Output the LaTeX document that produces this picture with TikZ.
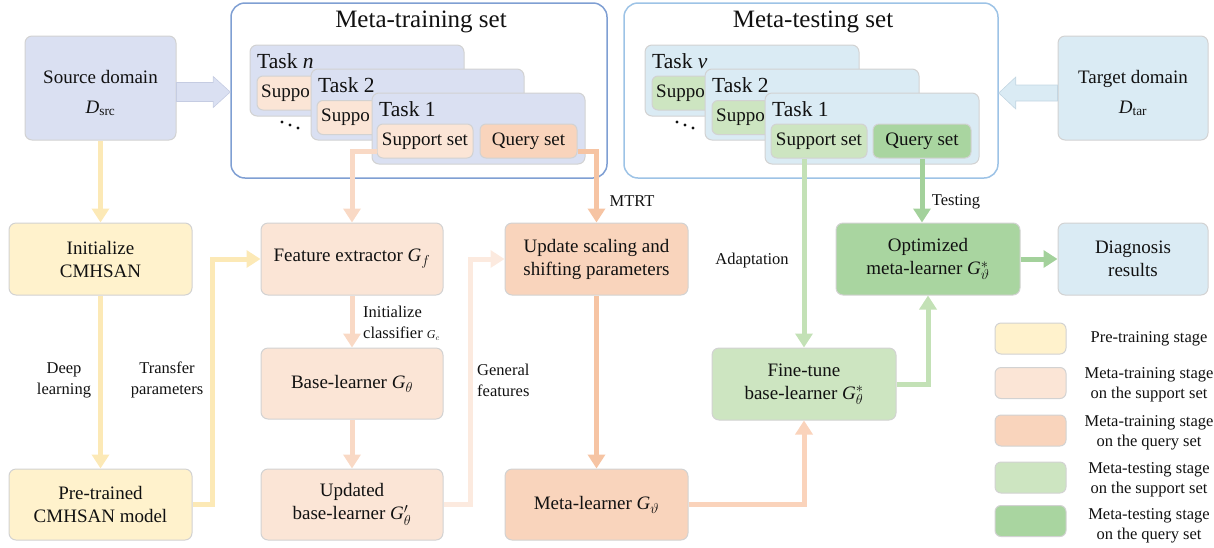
\documentclass[tikz,border=0pt]{standalone}
\usepackage{fontspec}
\setmainfont{Liberation Serif}
\usetikzlibrary{arrows.meta,calc}
\definecolor{lav}{HTML}{DAE0F2}
\definecolor{lavdark}{HTML}{C5CCE2}
\definecolor{lblue}{HTML}{DAEBF4}
\definecolor{lbluedark}{HTML}{C3D6E2}
\definecolor{yel}{HTML}{FFF2CC}
\definecolor{supp}{HTML}{FBE5D6}
\definecolor{query}{HTML}{F9D4BC}
\definecolor{gsupp}{HTML}{CDE5C1}
\definecolor{gquery}{HTML}{A9D5A0}
\definecolor{boxgray}{HTML}{D2D2D2}
\definecolor{frameA}{HTML}{7F9FD3}
\definecolor{frameB}{HTML}{9DC3E6}
\definecolor{cYellow}{HTML}{FCE9B6}
\definecolor{cSupp}{HTML}{F9D9C5}
\definecolor{cGen}{HTML}{FCEADF}
\definecolor{cQuery}{HTML}{F6C4A3}
\definecolor{cMetaF}{HTML}{FAD3BB}
\definecolor{cAdapt}{HTML}{C3E1B6}
\definecolor{cTest}{HTML}{A3D19B}
\definecolor{txt}{HTML}{111111}
\newcommand{\GG}{\textit{G}}
\begin{document}
\begin{tikzpicture}[x=1pt,y=-1pt,
  box/.style={draw=boxgray, line width=1pt, rounded corners=7pt, align=center,
    font=\fontsize{19}{23}\selectfont, inner sep=0pt, text=txt},
  card/.style={draw=boxgray, line width=1pt, rounded corners=7pt, inner sep=0pt},
  setbox/.style={draw=boxgray, line width=1pt, rounded corners=6pt, inner sep=0pt,
    minimum height=34pt, font=\fontsize{19}{23}\selectfont, text=txt},
  settxt/.style={anchor=west, inner sep=0pt, font=\fontsize{19}{23}\selectfont, text=txt},
  tasklab/.style={anchor=west, inner sep=0pt, font=\fontsize{21.5}{24}\selectfont, text=txt},
  frame/.style={line width=1.5pt, rounded corners=14pt, inner sep=0pt, fill=white},
  conn/.style={line width=5pt, -{Triangle[width=17pt,length=14pt]}},
  lab/.style={align=center, font=\fontsize{16.5}{21}\selectfont, text=txt, inner sep=1pt},
  sw/.style={draw=boxgray, line width=1pt, rounded corners=6pt, minimum width=71pt, minimum height=31pt, inner sep=0pt},
  legtxt/.style={align=center, font=\fontsize{16.5}{20}\selectfont, text=txt, inner sep=0pt}
]
\useasboundingbox (0,0) rectangle (1214,547);

% ---------- source / target domains
\node[box, fill=lav, minimum width=151pt, minimum height=104pt] (src) at (100.5,88) {};
\node[box, draw=none, inner sep=0pt] (srct) at (100.5,93) {Source domain\\[7pt]\textit{D}\textsubscript{src}};
\node[box, fill=lblue, minimum width=150pt, minimum height=104pt] (tgt) at (1133,88) {};
\node[box, draw=none, inner sep=0pt] (tgtt) at (1133,93) {Target domain\\[7pt]\textit{D}\textsubscript{tar}};

% ---------- meta-training set
\node[frame, draw=frameA, minimum width=376pt, minimum height=175pt] (mtrain) at (419,90.5) {};
\node[font=\fontsize{25}{30}\selectfont, text=txt] (mtraint) at (421,22) {Meta-training set};

\node[card, fill=lav, minimum width=214pt, minimum height=71pt] (tn) at (357,80.5) {};
\node[tasklab] (tnl) at (257,61) {Task \textit{n}};
\node[setbox, fill=supp, minimum width=96pt] (sn) at (305,93) {};
\node[settxt] (snt) at (261,93) {Suppo};
\fill[txt] (282,122) circle (1.6) (290,125) circle (1.6) (298,128) circle (1.6);

\node[card, fill=lav, minimum width=213pt, minimum height=71pt] (t2) at (417.5,104.5) {};
\node[tasklab] (t2l) at (318,85) {Task 2};
\node[setbox, fill=supp, minimum width=96pt] (s2) at (365,117.5) {};
\node[settxt] (s2t) at (321,117.5) {Suppo};

\node[card, fill=lav, minimum width=213pt, minimum height=71pt] (t1) at (478.5,128.5) {};
\node[tasklab] (t1l) at (379,109) {Task 1};
\node[setbox, fill=supp, minimum width=96pt] (s1) at (425,141) {Support set};
\node[setbox, fill=query, minimum width=97pt] (q1) at (528.5,141) {Query set};

% ---------- meta-testing set
\node[frame, draw=frameB, minimum width=374pt, minimum height=175pt] (mtest) at (811,90.5) {};
\node[font=\fontsize{25}{30}\selectfont, text=txt] (mtestt) at (813,22) {Meta-testing set};

\node[card, fill=lblue, minimum width=214pt, minimum height=71pt] (tv) at (752,80.5) {};
\node[tasklab] (tvl) at (652,61) {Task \textit{v}};
\node[setbox, fill=gsupp, minimum width=96pt] (sv) at (700,93) {};
\node[settxt] (svt) at (656,93) {Suppo};
\fill[txt] (677,122) circle (1.6) (685,125) circle (1.6) (693,128) circle (1.6);

\node[card, fill=lblue, minimum width=214pt, minimum height=71pt] (u2) at (812,104.5) {};
\node[tasklab] (u2l) at (712,85) {Task 2};
\node[setbox, fill=gsupp, minimum width=96pt] (su2) at (760,117.5) {};
\node[settxt] (su2t) at (716,117.5) {Suppo};

\node[card, fill=lblue, minimum width=214pt, minimum height=71pt] (u1) at (872,128.5) {};
\node[tasklab] (u1l) at (772,109) {Task 1};
\node[setbox, fill=gsupp, minimum width=96pt] (s1t) at (819,141) {Support set};
\node[setbox, fill=gquery, minimum width=98pt] (q1t) at (922,141) {Query set};

% ---------- block arrows
\coordinate (a1) at (src.east);
\coordinate (a2) at (src.east -| mtrain.west);
\draw[fill=lav, draw=lavdark, line width=0.6pt, line join=miter]
  ($(a1)+(0,-5.5)$) -- ($(a2)+(-17,-5.5)$) -- ($(a2)+(-17,-11.5)$) -- ($(a2)+(0,4)$)
  -- ($(a2)+(-17,19.5)$) -- ($(a2)+(-17,13.5)$) -- ($(a1)+(0,13.5)$) -- cycle;
\coordinate (a3) at (tgt.west);
\coordinate (a4) at (tgt.west -| mtest.east);
\draw[fill=lblue, draw=lbluedark, line width=0.6pt, line join=miter]
  ($(a3)+(0,-3)$) -- ($(a4)+(17,-3)$) -- ($(a4)+(17,-11)$) -- ($(a4)+(0,5)$)
  -- ($(a4)+(17,21)$) -- ($(a4)+(17,13)$) -- ($(a3)+(0,13)$) -- cycle;

% ---------- process boxes
\node[box, fill=yel, minimum width=183pt, minimum height=72pt] (init) at (100.5,259) {Initialize\\CMHSAN};
\node[box, fill=yel, minimum width=183pt, minimum height=71pt] (pre) at (100.5,504.5) {Pre-trained\\CMHSAN model};
\node[box, fill=supp, minimum width=182pt, minimum height=72pt] (fe) at (352,259) {Feature extractor \GG$_{f}$};
\node[box, fill=supp, minimum width=182pt, minimum height=71pt] (base) at (352,383.5) {Base-learner \GG$_{\theta}$};
\node[box, fill=supp, minimum width=182pt, minimum height=71pt] (upd) at (352,504.5) {Updated\\base-learner \GG$'_{\theta}$};
\node[box, fill=query, minimum width=183pt, minimum height=72pt] (usc) at (596.5,259) {Update scaling and\\shifting parameters};
\node[box, fill=query, minimum width=183pt, minimum height=71pt] (meta) at (596.5,504.5) {Meta-learner \GG$_{\vartheta}$};
\node[box, fill=gsupp, minimum width=184pt, minimum height=72pt] (fine) at (804,384) {Fine-tune\\base-learner \GG$^{*}_{\theta}$};
\node[box, fill=gquery, minimum width=184pt, minimum height=72pt] (opt) at (928,259) {Optimized\\meta-learner \GG$^{*}_{\vartheta}$};
\node[box, fill=lblue, minimum width=150pt, minimum height=72pt] (diag) at (1133,259) {Diagnosis\\results};

% ---------- connectors
\draw[conn, cYellow] (src.south) -- (init.north);
\draw[conn, cYellow] (init) -- (pre);
\draw[conn, cYellow] (pre.east) -- ++(20,0) |- (fe.west);
\draw[conn, cSupp] ([yshift=-10pt]s1.west) -| (fe.north);
\draw[conn, cQuery] ([yshift=-10pt]q1.east) -| (usc.north);
\draw[conn, cSupp] (fe) -- (base);
\draw[conn, cSupp] (base) -- (upd);
\draw[conn, cGen] (upd.east) -- ++(27,0) |- (usc.west);
\draw[conn, cQuery] (usc) -- (meta);
\draw[conn, cMetaF] (meta.east) -| (fine.south);
\draw[conn, cAdapt] (fine.north |- s1t.south) -- (fine.north);
\draw[conn, cTest] (q1t.south) -- (q1t.south |- opt.north);
\draw[conn, cAdapt] (fine.east) -| (opt.south);
\draw[conn, cTest] (opt) -- (diag);

% ---------- connector labels
\node[lab] (ldeep) at (64,380) {Deep\\learning};
\node[lab] (ltrans) at (167,380) {Transfer\\parameters};
\node[lab, anchor=west, align=left] (linit) at (362,323) {Initialize\\classifier {\fontsize{12}{12}\selectfont\textit{G}$_{c}$}};
\node[lab, anchor=west, align=left] (lgen) at (476,380) {General\\features};
\node[lab] (lmtrt) at (632,201) {MTRT};
\node[lab] (ladapt) at (752,261) {Adaptation};
\node[lab] (ltest) at (956,202) {Testing};

% ---------- legend
\node[sw, fill=yel] (lg1) at (1030.5,338.5) {};
\node[legtxt] (lt1) at (1149,339) {Pre-training stage};
\node[sw, fill=supp] (lg2) at (1030.5,383) {};
\node[legtxt] (lt2) at (1149,385) {Meta-training stage\\on the support set};
\node[sw, fill=query] (lg3) at (1030.5,430.5) {};
\node[legtxt] (lt3) at (1149,433) {Meta-training stage\\on the query set};
\node[sw, fill=gsupp] (lg4) at (1030.5,477.5) {};
\node[legtxt] (lt4) at (1149,480) {Meta-testing stage\\on the support set};
\node[sw, fill=gquery] (lg5) at (1030.5,521) {};
\node[legtxt] (lt5) at (1149,526) {Meta-testing stage\\on the query set};
\end{tikzpicture}
\end{document}
